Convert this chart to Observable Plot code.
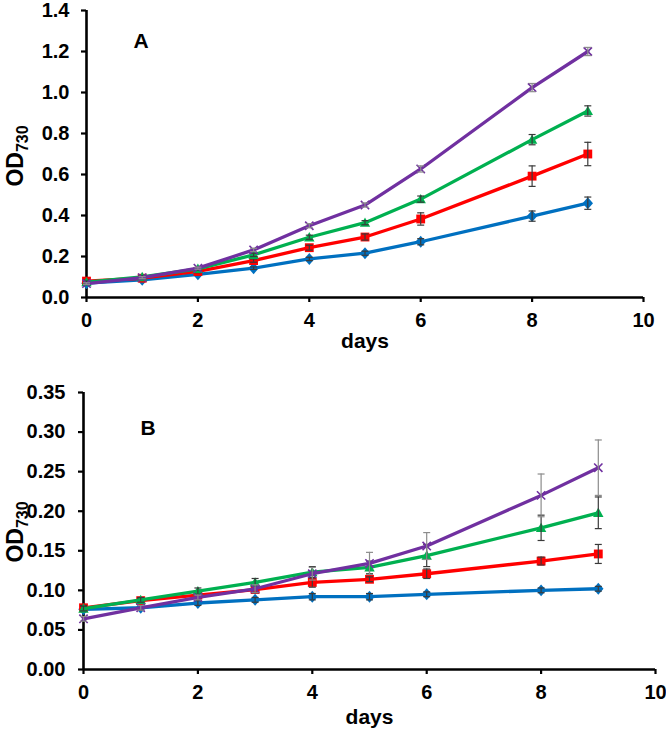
<!DOCTYPE html>
<html><head><meta charset="utf-8">
<script src="https://cdn.jsdelivr.net/npm/d3@7"></script>
<script src="https://cdn.jsdelivr.net/npm/@observablehq/plot@0.6"></script>
<style>
body{margin:0;background:#fff;}
#chart{width:666px;}
#chart svg{display:block;}
#chart svg text{font-family:'Liberation Sans', Arial, sans-serif;font-weight:bold;}
</style></head><body><div id="chart"></div>
<script>
// ---- data ----
const days = [0, 1, 2, 3, 4, 5, 6, 8, 9];
const seriesColors = ["#0070C0", "#FF0000", "#00B050", "#7030A0"];
const errorColors = ["#3a3a3a", "#3a3a3a", "#3a3a3a", "#8c8c8c"];

// Panel A
const aBlue = [0.070, 0.086, 0.113, 0.143, 0.188, 0.216, 0.272, 0.397, 0.460];
const aBlueErr = [0.005, 0.005, 0.005, 0.006, 0.008, 0.010, 0.015, 0.025, 0.030];
const aRed = [0.080, 0.094, 0.127, 0.180, 0.243, 0.295, 0.383, 0.592, 0.700];
const aRedErr = [0.005, 0.005, 0.006, 0.008, 0.012, 0.015, 0.030, 0.050, 0.057];
const aGreen = [0.075, 0.100, 0.140, 0.208, 0.294, 0.365, 0.480, 0.770, 0.910];
const aGreenErr = [0.005, 0.005, 0.006, 0.008, 0.010, 0.010, 0.015, 0.025, 0.025];
const aPurple = [0.068, 0.097, 0.143, 0.232, 0.350, 0.451, 0.627, 1.024, 1.200];
const aPurpleErr = [0.004, 0.005, 0.005, 0.008, 0.010, 0.010, 0.015, 0.020, 0.020];
const aTicks = [0, 0.2, 0.4, 0.6, 0.8, 1.0, 1.2, 1.4];

// Panel B
const bBlue = [0.076, 0.078, 0.084, 0.088, 0.092, 0.092, 0.095, 0.100, 0.102];
const bBlueErr = [0.002, 0.003, 0.003, 0.003, 0.004, 0.004, 0.003, 0.003, 0.003];
const bRed = [0.078, 0.087, 0.094, 0.101, 0.110, 0.114, 0.121, 0.137, 0.146];
const bRedErr = [0.003, 0.003, 0.003, 0.004, 0.006, 0.003, 0.006, 0.005, 0.012];
const bGreen = [0.077, 0.088, 0.099, 0.110, 0.123, 0.129, 0.144, 0.179, 0.198];
const bGreenErr = [0.003, 0.003, 0.004, 0.005, 0.007, 0.008, 0.014, 0.016, 0.020];
const bPurple = [0.064, 0.078, 0.091, 0.102, 0.121, 0.134, 0.156, 0.220, 0.255];
const bPurpleErr = [0.003, 0.003, 0.003, 0.005, 0.008, 0.014, 0.017, 0.027, 0.035];
const bTicks = [0, 0.05, 0.10, 0.15, 0.20, 0.25, 0.30, 0.35];

const xTicks = [0, 2, 4, 6, 8, 10];

// ---- symbols ----
const rOf = s => Math.sqrt(s / Math.PI);
const diamondSym = {draw(c, s) {const r = rOf(s); c.moveTo(0, -r * 1.15); c.lineTo(r, 0); c.lineTo(0, r * 1.15); c.lineTo(-r, 0); c.closePath();}};
const squareSym = {draw(c, s) {const r = rOf(s) * 0.85; c.rect(-r, -r, 2 * r, 2 * r);}};
const triSym = {draw(c, s) {const r = rOf(s); c.moveTo(0, -r * 1.0); c.lineTo(r, r * 0.8); c.lineTo(-r, r * 0.8); c.closePath();}};
const timesSym = {draw(c, s) {const r = rOf(s) * 0.8; c.moveTo(-r, -r); c.lineTo(r, r); c.moveTo(r, -r); c.lineTo(-r, r);}};
const capSym = {draw(c, s) {const r = rOf(s); c.moveTo(-r, 0); c.lineTo(r, 0);}};
const symbols = [diamondSym, squareSym, triSym, timesSym];
const filled = [true, true, true, false];

const FONT = "'Liberation Sans', Arial, sans-serif";

function panel(cfg) {
  const marks = [];
  cfg.series.forEach((s, i) => {
    const data = days.map((d, j) => ({day: d, v: s[0][j], e: s[1][j]}));
    marks.push(Plot.line(data, {x: "day", y: "v", stroke: seriesColors[i], strokeWidth: 3.3}));
    marks.push(Plot.dot(data, filled[i]
      ? {x: "day", y: "v", symbol: symbols[i], r: 5.2, fill: seriesColors[i], stroke: "none"}
      : {x: "day", y: "v", symbol: symbols[i], r: 5.2, fill: "none", stroke: seriesColors[i], strokeWidth: 1.6}));
    marks.push(Plot.ruleX(data, {x: "day", y1: d => d.v - d.e, y2: d => d.v + d.e, stroke: errorColors[i], strokeWidth: 1.2}));
    marks.push(Plot.dot(data, {x: "day", y: d => d.v + d.e, symbol: capSym, r: 3.5, stroke: errorColors[i], strokeWidth: 1.2}));
    marks.push(Plot.dot(data, {x: "day", y: d => d.v - d.e, symbol: capSym, r: 3.5, stroke: errorColors[i], strokeWidth: 1.2}));
  });
  const svg = Plot.plot({
    width: 666,
    height: cfg.height,
    marginLeft: cfg.marginLeft,
    marginRight: cfg.marginRight,
    marginTop: cfg.marginTop,
    marginBottom: cfg.marginBottom,
    style: {fontFamily: FONT, fontSize: "20px", fontWeight: "bold", color: "#000", background: "#fff"},
    x: {domain: [0, 10]},
    y: {domain: cfg.yDomain},
    marks: [
      Plot.axisY({ticks: cfg.yTicks, tickFormat: d3.format(cfg.yFormat), tickSize: 5, tickPadding: cfg.tickPadY, strokeWidth: 2.2, label: null}),
      Plot.axisX({ticks: xTicks, tickSize: 5, tickPadding: 10, strokeWidth: 2.2, label: null}),
      Plot.ruleX([0], {stroke: "#000", strokeWidth: 2.6}),
      Plot.ruleY([0], {stroke: "#000", strokeWidth: 2.6}),
      ...marks,
      Plot.text([cfg.letter], {frameAnchor: "top-left", dx: cfg.letterDx, dy: cfg.letterDy, fill: "#000"}),
      Plot.text(["days"], {frameAnchor: "bottom", dy: cfg.daysDy, fill: "#000"})
    ]
  });
  const s = d3.select(svg);
  s.selectAll("g[aria-label$='tick label']").style("font-size", "20px").style("font-weight", "bold").style("fill", "#000");
  s.selectAll("g[aria-label='text']").style("font-size", "21px").style("font-weight", "bold");
  // y-axis label with subscript
  const t = s.append("text")
    .attr("transform", `translate(${cfg.yLabelX},${cfg.yLabelY}) rotate(-90)`)
    .attr("text-anchor", "middle")
    .style("font-size", "23px")
    .attr("fill", "#000");
  t.append("tspan").text("OD");
  t.append("tspan").style("font-size", "16px").attr("dy", 5).text("730");
  return svg;
}

const chart = document.getElementById("chart");
chart.appendChild(panel({
  height: 365, marginLeft: 86, marginRight: 23, marginTop: 10, marginBottom: 68,
  yDomain: [0, 1.4], yTicks: aTicks, yFormat: ".1f", tickPadY: 12,
  series: [[aBlue, aBlueErr], [aRed, aRedErr], [aGreen, aGreenErr], [aPurple, aPurpleErr]],
  letter: "A", letterDx: 47, letterDy: 23, daysDy: 50, yLabelX: 23, yLabelY: 156
}));
chart.appendChild(panel({
  height: 370, marginLeft: 83, marginRight: 11, marginTop: 27, marginBottom: 66,
  yDomain: [0, 0.35], yTicks: bTicks, yFormat: ".2f", tickPadY: 13,
  series: [[bBlue, bBlueErr], [bRed, bRedErr], [bGreen, bGreenErr], [bPurple, bPurpleErr]],
  letter: "B", letterDx: 57, letterDy: 28, daysDy: 54, yLabelX: 23, yLabelY: 167
}));
</script>
</body></html>
